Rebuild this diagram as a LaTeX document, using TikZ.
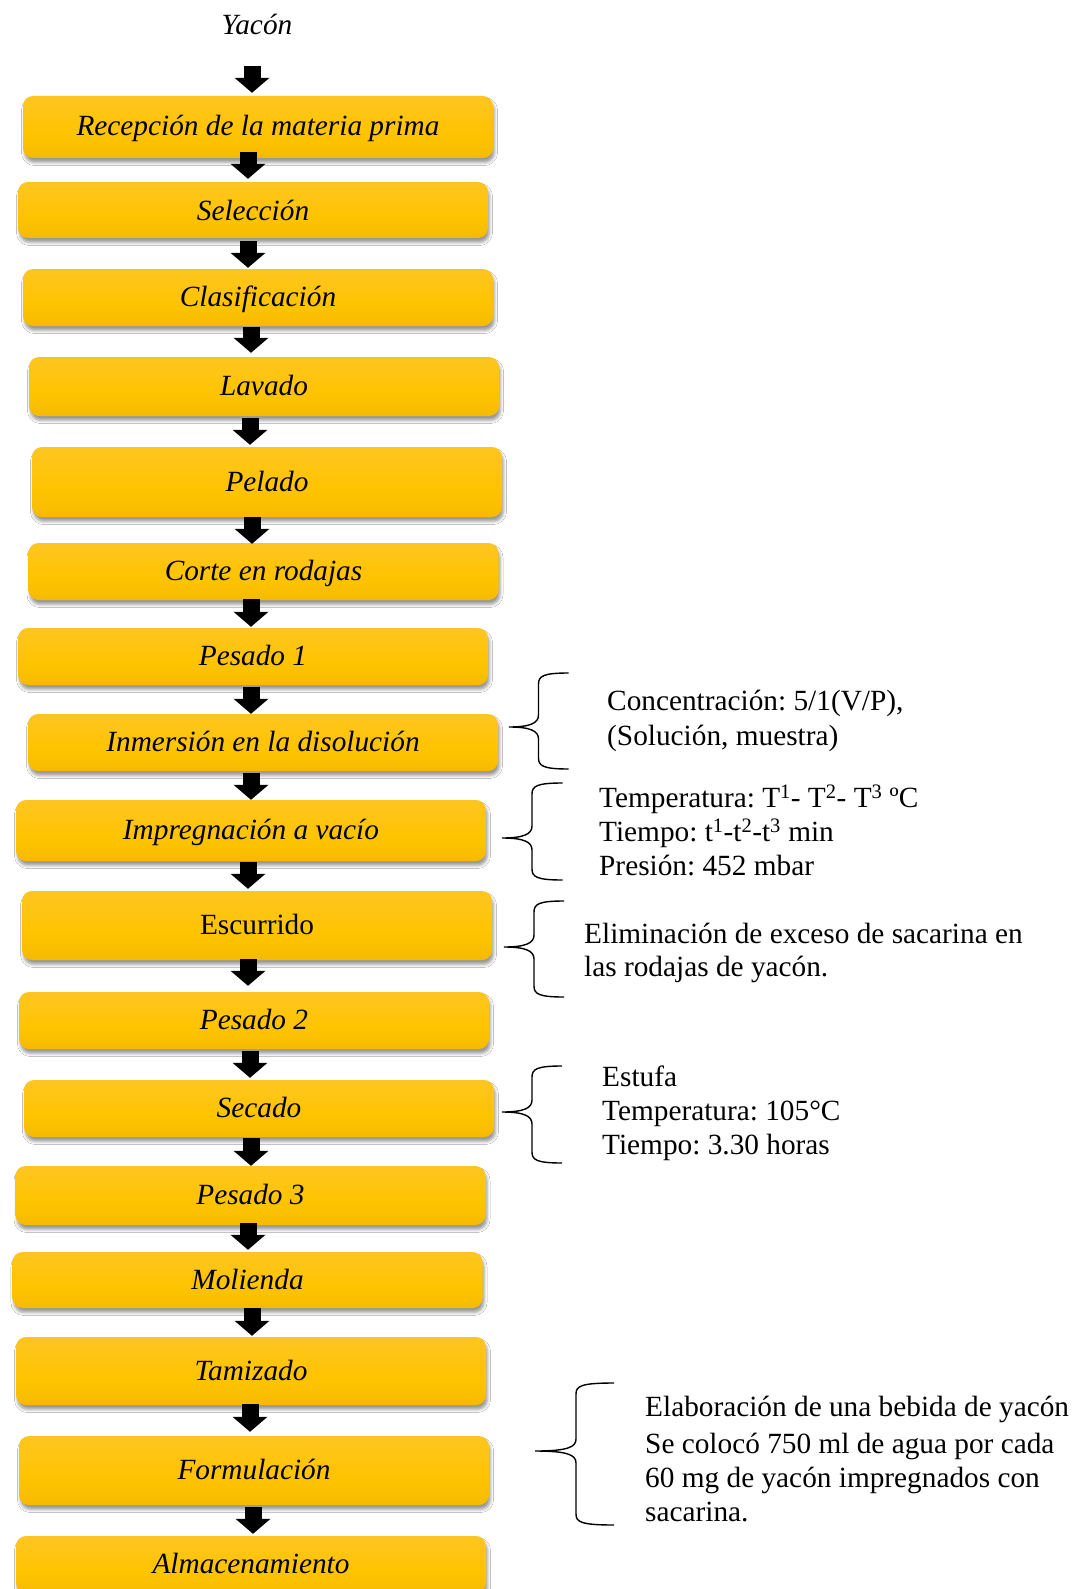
\documentclass[tikz,border=0pt]{standalone}
\usepackage{fontspec}
\setmainfont{Liberation Serif}
\frenchspacing
\usetikzlibrary{arrows.meta,calc,shadows.blur}
\definecolor{gtop}{RGB}{253,198,62}
\definecolor{gmid}{RGB}{255,196,0}
\definecolor{gbot}{RGB}{234,175,0}
\pgfdeclareverticalshading{goldshade}{100bp}{color(0bp)=(gbot); color(45bp)=(gmid); color(100bp)=(gtop)}
\newcommand\bxfont{\fontsize{29.3}{34}\selectfont}
\newcommand\ntfont{\fontsize{29.3}{34}\selectfont}
\tikzset{
  stepbox/.style={rounded corners=10pt, shading=goldshade, minimum width=470pt,
    inner sep=0pt, text height=24pt, text depth=6pt, font=\bxfont\itshape,
    blur shadow={shadow xshift=1.5pt, shadow yshift=-4.5pt, shadow blur radius=3pt, shadow opacity=40}},
  blk/.style={line width=17pt, -{Triangle[width=35pt,length=15pt,line width=0pt]}},
  note/.style={anchor=base west, inner sep=0pt, font=\ntfont},
  bracepath/.style={line width=1.4pt},
  pics/lbrace/.style n args={6}{code={
    \draw[bracepath] (#1,#4) .. controls (#2+5,#4) and (#2,#4+3) .. (#2,#4+11)
      -- (#2,#5-12) .. controls (#2,#5-4) and (#2-8,#5) .. (#3,#5)
      .. controls (#2-8,#5) and (#2,#5+4) .. (#2,#5+12)
      -- (#2,#6-11) .. controls (#2,#6-3) and (#2+5,#6) .. (#1,#6);
  }}
}
\begin{document}
\begin{tikzpicture}[x=1pt,y=-1pt]
\clip (0,0) rectangle (1082,1589);
\fill[white] (0,0) rectangle (1082,1589);

\node[anchor=base, inner sep=0pt, font=\bxfont\itshape] (yac) at (257,35) {Yacón};

\node[stepbox, minimum height=62pt] (rec) at (258,127) {Recepción de la materia prima};
\node[stepbox, minimum height=56pt, text depth=2pt] (sel) at (253,210) {Selección};
\node[stepbox, minimum height=57pt] (cla) at (258,297.5) {Clasificación};
\node[stepbox, minimum height=59pt] (lav) at (264,386.5) {Lavado};
\node[stepbox, minimum height=70pt] (pel) at (267,482) {Pelado};
\node[stepbox, minimum height=57pt] (cor) at (263.5,571.5) {Corte en rodajas};
\node[stepbox, minimum height=57pt] (pe1) at (253,656.5) {Pesado 1};
\node[stepbox, minimum height=57pt] (inm) at (263,742.5) {Inmersión en la disolución};
\node[stepbox, minimum height=61pt] (imp) at (251,830.5) {Impregnación a vacío};
\node[stepbox, minimum height=69pt, font=\bxfont\upshape] (esc) at (257,925.5) {Escurrido};
\node[stepbox, minimum height=57pt] (pe2) at (254,1020.5) {Pesado 2};
\node[stepbox, minimum height=57pt] (sec) at (259,1108.5) {Secado};
\node[stepbox, minimum height=59pt] (pe3) at (250.5,1195.5) {Pesado 3};
\node[stepbox, minimum height=56pt] (mol) at (247.5,1280) {Molienda};
\node[stepbox, minimum height=68pt] (tam) at (251,1371) {Tamizado};
\node[stepbox, minimum height=69pt] (frm) at (254,1470.5) {Formulación};
\node[stepbox, minimum height=57pt] (alm) at (251,1564.5) {Almacenamiento};

\draw[blk] ($(yac.base)+(-5,31)$) -- ($(rec.north)+(-6,-3)$);
\draw[blk] ($(rec.south)+(-10,-6)$) -- ($(sel.north)+(-5,-3)$);
\draw[blk] ($(sel.south)+(-5,3)$) -- ($(cla.north)+(-10,-1)$);
\draw[blk] ($(cla.south)+(-7,1)$) -- ($(lav.north)+(-13,-4)$);
\draw[blk] ($(lav.south)+(-14,2)$) -- ($(pel.north)+(-17,-2)$);
\draw[blk] ($(pel.south)+(-15,0)$) -- ($(cor.north)+(-11.5,1)$);
\draw[blk] ($(cor.south)+(-12.5,-1)$) -- ($(pe1.north)+(-2,-1)$);
\draw[blk] ($(pe1.south)+(-2,2)$) -- ($(inm.north)+(-12,0)$);
\draw[blk] ($(inm.south)+(-12,2)$) -- ($(imp.north)+(0,0)$);
\draw[blk] ($(imp.south)+(-3,1)$) -- ($(esc.north)+(-9,-2)$);
\draw[blk] ($(esc.south)+(-9,-1)$) -- ($(pe2.north)+(-6,-6)$);
\draw[blk] ($(pe2.south)+(-4,2)$) -- ($(sec.north)+(-9,-2)$);
\draw[blk] ($(sec.south)+(-8,1)$) -- ($(pe3.north)+(0.5,0)$);
\draw[blk] ($(pe3.south)+(-2.5,-2)$) -- ($(mol.north)+(0.5,-2)$);
\draw[blk] ($(mol.south)+(4.5,0)$) -- ($(tam.north)+(1,-1)$);
\draw[blk] ($(tam.south)+(-1,-1)$) -- ($(frm.north)+(-4,-4)$);
\draw[blk] ($(frm.south)+(-1,2)$) -- ($(alm.north)+(2,-2)$);

% braces
\pic {lbrace={568.5}{538.5}{509}{673}{727}{769}};
\pic {lbrace={562.7}{532}{502}{783}{838}{880}};
\pic {lbrace={564}{534}{504}{901}{947}{997}};
\pic {lbrace={562}{532}{502}{1066}{1112}{1163}};
\pic {lbrace={614}{576}{535}{1383}{1451}{1525}};

% notes
\node[note] (n1a) at (607,710.7) {Concentración: 5/1(V/P),};
\node[note] (n1b) at (607,745) {(Solución, muestra)};
\node[note] (n2a) at (599,807.7) {Temperatura: T\textsuperscript{1}- T\textsuperscript{2}- T\textsuperscript{3} ºC};
\node[note] (n2b) at (599,841.7) {Tiempo: t\textsuperscript{1}-t\textsuperscript{2}-t\textsuperscript{3} min};
\node[note] (n2c) at (599,875.5) {Presión: 452 mbar};
\node[note] (n3a) at (584,943.5) {Eliminación de exceso de sacarina en};
\node[note] (n3b) at (584,976.5) {las rodajas de yacón.};
\node[note] (n4a) at (602,1086) {Estufa};
\node[note] (n4b) at (602,1120) {Temperatura: 105°C};
\node[note] (n4c) at (602,1154) {Tiempo: 3.30 horas};
\node[note] (n5a) at (645,1416) {Elaboración de una bebida de yacón};
\node[note] (n5b) at (645,1453) {Se colocó 750 ml de agua por cada};
\node[note] (n5c) at (645,1487.5) {60 mg de yacón impregnados con};
\node[note] (n5d) at (645,1521) {sacarina.};
\end{tikzpicture}
\end{document}
